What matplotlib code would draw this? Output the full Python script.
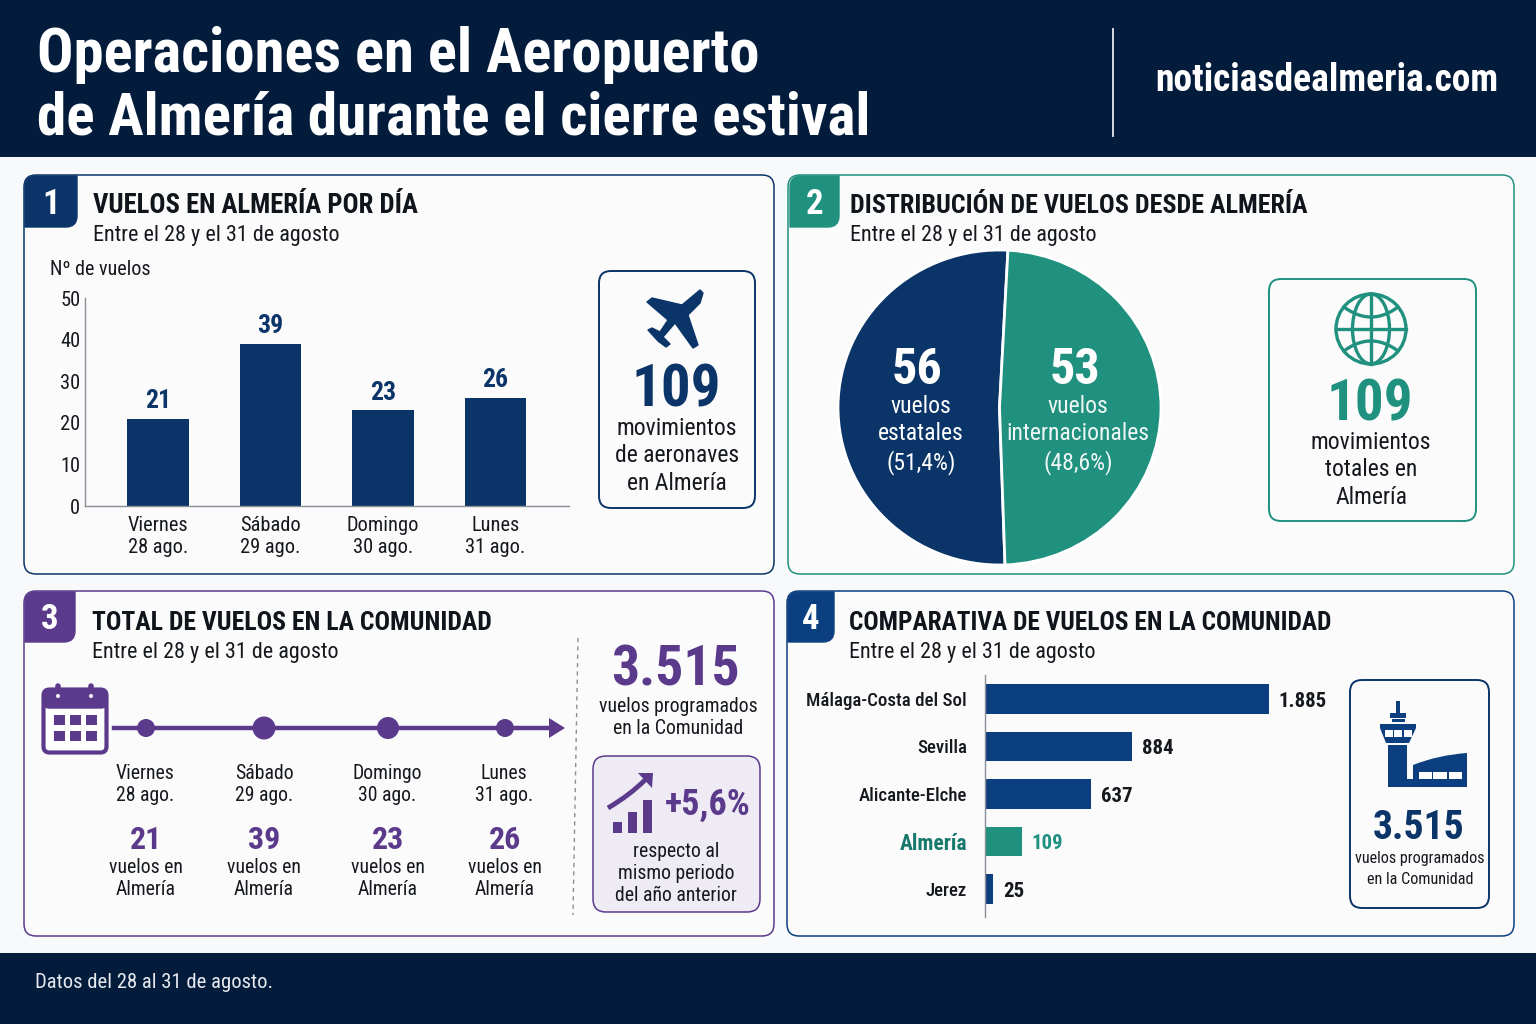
import numpy as np
import matplotlib
matplotlib.use("Agg")
import matplotlib.pyplot as plt
from matplotlib.patches import FancyBboxPatch, Rectangle, Circle, Ellipse, Polygon, PathPatch
from matplotlib.path import Path
from matplotlib.font_manager import fontManager

# ---------- data ----------
title_lines = ["Operaciones en el Aeropuerto", "de Almería durante el cierre estival"]
site = "noticiasdealmeria.com"
footer = "Datos del 28 al 31 de agosto."
subtitle = "Entre el 28 y el 31 de agosto"
days = ["Viernes\n28 ago.", "Sábado\n29 ago.", "Domingo\n30 ago.", "Lunes\n31 ago."]
flights_day = [21, 39, 23, 26]
y_ticks = [0, 10, 20, 30, 40, 50]
pie_values = [56, 53]
pie_words = ["vuelos\nestatales\n(51,4%)", "vuelos\ninternacionales\n(48,6%)"]
airports = ["Málaga-Costa del Sol", "Sevilla", "Alicante-Elche", "Almería", "Jerez"]
airport_flights = [1885, 884, 637, 109, 25]
airport_labels = ["1.885", "884", "637", "109", "25"]
# the reference's bars are not to a linear scale: these are its breakpoints
scale_values = [0, 109, 637, 884, 1885]
scale_lengths = [0, 37, 106, 147, 284]

NAVY = "#0b3568"; DARK = "#041c3c"; TEAL = "#20907f"; PURPLE = "#5b3a8c"; BLUE = "#0c3f7f"
INK = "#15181d"; BG = "#f8f9fa"

names = {f.name for f in fontManager.ttflist}
FONT = "Roboto Condensed" if "Roboto Condensed" in names else "Roboto"
plt.rcParams["font.family"] = [FONT, "DejaVu Sans"]

W, H = 1536, 1024
fig = plt.figure(figsize=(W / 100, H / 100), dpi=100, facecolor=BG)
bg = fig.add_axes([0, 0, 1, 1], zorder=0); bg.set_xlim(0, W); bg.set_ylim(H, 0); bg.axis("off")
fg = fig.add_axes([0, 0, 1, 1], zorder=5); fg.set_xlim(0, W); fg.set_ylim(H, 0); fg.axis("off")
fg.patch.set_alpha(0)


def sub_axes(l, t, r, b):
    return fig.add_axes([l / W, 1 - b / H, (r - l) / W, (b - t) / H], zorder=1)


def T(x, y, s, size, color=INK, weight="normal", ha="center", va="center", ls=1.2, z=10):
    return fg.text(x, y + size * 0.1, s, fontsize=size, color=color, fontweight=weight, ha=ha, va=va, linespacing=ls, zorder=z)


def box(l, t, r, b, ec, lw=1.1, fc="#fbfbfc", rad=12, z=1):
    p = FancyBboxPatch((l + rad, t + rad), r - l - 2 * rad, b - t - 2 * rad,
                       boxstyle=f"round,pad={rad},rounding_size={rad}", fc=fc, ec=ec, lw=lw, zorder=z)
    bg.add_patch(p)


def badge(l, t, r, b, color, s):
    rad = 11
    verts = [(l + rad, t), (r, t), (r, b - rad), (r, b), (r - rad, b), (l, b), (l, t + rad), (l, t), (l + rad, t), (l + rad, t)]
    codes = [Path.MOVETO, Path.LINETO, Path.LINETO, Path.CURVE3, Path.CURVE3, Path.LINETO, Path.LINETO, Path.CURVE3, Path.CURVE3, Path.CLOSEPOLY]
    bg.add_patch(PathPatch(Path(verts, codes), fc=color, ec=color, lw=1, zorder=3))
    T((l + r) / 2, (t + b) / 2, s, 25, "white", "bold", z=4)


# ---------- header / footer ----------
bg.add_patch(Rectangle((0, 0), W, 157, fc=DARK, ec="none"))
bg.add_patch(Rectangle((0, 953), W, 71, fc=DARK, ec="none"))
T(37, 51, title_lines[0], 43.7, "white", "bold", ha="left")
T(37, 114, title_lines[1], 42.7, "white", "bold", ha="left")
bg.plot([1113, 1113], [29, 136], color="#e8ebef", lw=1.3)
T(1327, 78, site, 27, "white", "bold")
T(35, 981, footer, 14.9, "#e6e9ee", ha="left")

# ---------- panels ----------
box(24, 175, 774, 574, NAVY)
box(788, 175, 1514, 574, TEAL)
box(24, 591, 774, 936, PURPLE)
box(787, 591, 1514, 936, BLUE)
badge(25, 176, 77, 227, NAVY, "1")
badge(790, 176, 839, 227, TEAL, "2")
badge(25, 592, 75, 642, PURPLE, "3")
badge(788, 592, 834, 642, BLUE, "4")
for x, y, s, size in [(93, 204, "VUELOS EN ALMERÍA POR DÍA", 19.2), (850, 204, "DISTRIBUCIÓN DE VUELOS DESDE ALMERÍA", 18.7),
                      (92, 621, "TOTAL DE VUELOS EN LA COMUNIDAD", 18.55), (849, 621, "COMPARATIVA DE VUELOS EN LA COMUNIDAD", 18.25)]:
    T(x, y, s, size, "#10151c", "bold", ha="left")
    T(x, y + 30, subtitle, 15.9, INK, ha="left")

# ---------- panel 1: bars ----------
T(50, 268, "Nº de vuelos", 14.5, ha="left")
ax = sub_axes(85, 298, 569, 506)
ax.patch.set_alpha(0)
ax.bar(range(4), flights_day, width=0.55, color=NAVY)
ax.set_xlim(-0.649, 3.653); ax.set_ylim(0, 50)
ax.set_yticks(y_ticks); ax.set_xticks(range(4)); ax.set_xticklabels(days)
ax.tick_params(axis="both", length=0, labelsize=14.7, colors=INK)
ax.tick_params(axis="x", pad=7)
for s in ["top", "right"]:
    ax.spines[s].set_visible(False)
for s in ["left", "bottom"]:
    ax.spines[s].set_color("#8a8f96"); ax.spines[s].set_linewidth(1)
for i, v in enumerate(flights_day):
    ax.annotate(str(v), (i, v), xytext=(0, 4), textcoords="offset points", ha="center", va="bottom",
                fontsize=18.5, fontweight="bold", color=NAVY)

box(599, 271, 755, 508, NAVY, lw=1.4)
plane = [(647, 302), (652, 298), (682, 305), (700, 290), (703, 293), (700, 303), (688, 315), (698, 345), (693, 348),
         (675, 323), (663, 337), (670, 344), (666, 347), (658, 341), (648, 330), (652, 328), (660, 332), (668, 320)]
bg.add_patch(Polygon(plane, closed=True, fc=NAVY, ec=NAVY, lw=1, joinstyle="round", zorder=4))
T(676, 386, "109", 42.5, NAVY, "bold")
T(677, 454, "movimientos\nde aeronaves\nen Almería", 17, ls=1.25)

# ---------- panel 2: pie ----------
ax = sub_axes(838, 250, 1161, 565)
ax.pie(pie_values, colors=[NAVY, TEAL], startangle=87, radius=1.0, counterclock=True,
       wedgeprops=dict(edgecolor="white", linewidth=2))
ax.set_aspect("auto")
ax.set_xlim(-1, 1); ax.set_ylim(-1, 1)
T(917, 367, str(pie_values[0]), 36, "white", "bold")
T(1075, 367, str(pie_values[1]), 36, "white", "bold")
T(921, 433, pie_words[0], 17, "white", ls=1.25)
T(1078, 433, pie_words[1], 17, "#eef7f5", ls=1.25)

box(1269, 279, 1476, 521, TEAL, lw=1.4)
gx, gy, gr = 1371, 329, 35
glw = 2.4
bg.add_patch(Circle((gx, gy), gr, fc="none", ec=TEAL, lw=glw, zorder=4))
bg.add_patch(Ellipse((gx, gy), 37, 2 * gr, fc="none", ec=TEAL, lw=glw, zorder=4))
bg.plot([gx, gx], [gy - gr, gy + gr], color=TEAL, lw=glw, zorder=4)
bg.plot([gx - gr, gx + gr], [gy, gy], color=TEAL, lw=glw, zorder=4)
t = np.linspace(-1, 1, 40)
bg.plot(gx + 27 * t, gy - 22 + 10 * (1 - t ** 2), color=TEAL, lw=glw, zorder=4)
bg.plot(gx + 27 * t, gy + 22 - 10 * (1 - t ** 2), color=TEAL, lw=glw, zorder=4)
T(1370, 401, "109", 41, TEAL, "bold")
T(1371, 468, "movimientos\ntotales en\nAlmería", 17, ls=1.25)

# ---------- panel 3: timeline ----------
bg.add_patch(FancyBboxPatch((45, 691), 60, 60, boxstyle="round,pad=1.5,rounding_size=6", fc="white", ec=PURPLE, lw=3, zorder=4))
bg.add_patch(FancyBboxPatch((44, 690), 62, 18, boxstyle="round,pad=0,rounding_size=5", fc=PURPLE, ec=PURPLE, zorder=5))
for x in (58, 91):
    bg.plot([x, x], [686, 696], color=PURPLE, lw=4, solid_capstyle="round", zorder=6)
    bg.add_patch(Circle((x, 696), 2, fc="white", ec="none", zorder=7))
for x in (59, 75, 91):
    for y in (720, 736):
        bg.add_patch(Rectangle((x - 5.5, y - 5), 11, 10, fc=PURPLE, ec="none", zorder=6))
bg.plot([114, 552], [728, 728], color=PURPLE, lw=3.2, zorder=3)
bg.add_patch(Polygon([(549, 718), (565, 728), (549, 738)], fc=PURPLE, ec="none", zorder=3))
tl_x = [146, 264, 388, 505]
tl_r = [9, 11.5, 11, 9]
for x, r, d, v in zip(tl_x, tl_r, days, flights_day):
    bg.add_patch(Circle((x, 728), r, fc=PURPLE, ec="none", zorder=4))
    T(x - 1 if x != 264 else x, 783, d, 14.2, ls=1.2)
    T(x, 838, str(v), 23, PURPLE, "bold")
    T(x, 877, "vuelos en\nAlmería", 14.2, ls=1.22)
bg.plot([578, 573], [638, 915], color="#8d8d92", lw=1, ls=(0, (3, 3)))
T(675, 667, "3.515", 40, PURPLE, "bold")
T(678, 716, "vuelos programados\nen la Comunidad", 14.2, ls=1.25)
box(593, 756, 760, 912, PURPLE, lw=1.1, fc="#efebf5", rad=13)
for x0, top in [(613, 822), (628, 812), (643, 800)]:
    bg.add_patch(Rectangle((x0, top), 9, 833 - top, fc=PURPLE, ec="none", zorder=4))
curve = Path([(608, 808), (630, 795), (645, 780)], [Path.MOVETO, Path.CURVE3, Path.CURVE3])
bg.add_patch(PathPatch(curve, fc="none", ec=PURPLE, lw=3.5, zorder=4))
bg.add_patch(Polygon([(638, 773), (653, 773), (652, 788)], fc=PURPLE, ec="none", zorder=4))
T(708, 802, "+5,6%", 26, PURPLE, "bold")
T(676, 872, "respecto al\nmismo periodo\ndel año anterior", 14.2, ls=1.22)

# ---------- panel 4: horizontal bars ----------
def forward(v):
    return np.interp(v, scale_values, scale_lengths)


def inverse(v):
    return np.interp(v, scale_lengths, scale_values)


ax = sub_axes(985, 675, 1269, 917)
ax.patch.set_alpha(0)
colors = [BLUE, BLUE, BLUE, TEAL, BLUE]
ax.barh(range(5), airport_flights, height=0.63, color=colors)
ax.set_xscale("function", functions=(forward, inverse))
ax.set_xlim(0, 1885); ax.set_ylim(4.59, -0.505)
ax.set_xticks([]); ax.set_yticks(range(5)); ax.set_yticklabels(airports)
ax.minorticks_off()
ax.tick_params(axis="y", length=0, pad=13, labelsize=13.6, colors=INK)
for s in ["top", "right", "bottom"]:
    ax.spines[s].set_visible(False)
ax.spines["left"].set_color("#8a8f96"); ax.spines["left"].set_linewidth(1)
for lab in ax.get_yticklabels():
    lab.set_fontweight("medium")
for i, (v, lab) in enumerate(zip(airport_flights, airport_labels)):
    c = TEAL if airports[i] == "Almería" else INK
    ax.annotate(lab, (v, i), xytext=(7, -1.5), textcoords="offset points", va="center", ha="left",
                fontsize=15, fontweight="semibold", color=c, annotation_clip=False)
    if airports[i] == "Almería":
        tick = ax.get_yticklabels()[i]
        tick.set_color("#17786c"); tick.set_fontweight("bold"); tick.set_fontsize(15.5)

box(1350, 680, 1489, 908, NAVY, lw=1.4)
# tower
for x0, y0, w, h in [(1396, 701, 3.5, 13), (1390, 713, 16, 5), (1392, 719, 13, 3), (1388, 745, 19, 42), (1388, 779, 79, 8)]:
    bg.add_patch(Rectangle((x0, y0), w, h, fc=BLUE, ec="none", zorder=4))
bg.add_patch(Polygon([(1380, 724), (1416, 724), (1416, 728), (1409, 743), (1386, 743), (1380, 728)], fc=BLUE, ec="none", zorder=4))
for x0, w in [(1385, 8), (1394, 8), (1404, 8)]:
    bg.add_patch(Rectangle((x0, 730), w, 7, fc="white", ec="none", zorder=5))
term = Path([(1413, 787), (1413, 765), (1438, 755), (1467, 753), (1467, 787), (1413, 787)],
            [Path.MOVETO, Path.LINETO, Path.CURVE3, Path.CURVE3, Path.LINETO, Path.CLOSEPOLY])
bg.add_patch(PathPatch(term, fc=BLUE, ec="none", zorder=4))
for x0, w in [(1419, 12.5), (1433, 13.5), (1449, 12.5)]:
    bg.add_patch(Rectangle((x0, 772), w, 7, fc="white", ec="none", zorder=5))
T(1419, 825, "3.515", 28.5, NAVY, "bold")
T(1420, 868, "vuelos programados\nen la Comunidad", 11.6, ls=1.45)

fig.savefig("out.png", dpi=100, facecolor=BG)
